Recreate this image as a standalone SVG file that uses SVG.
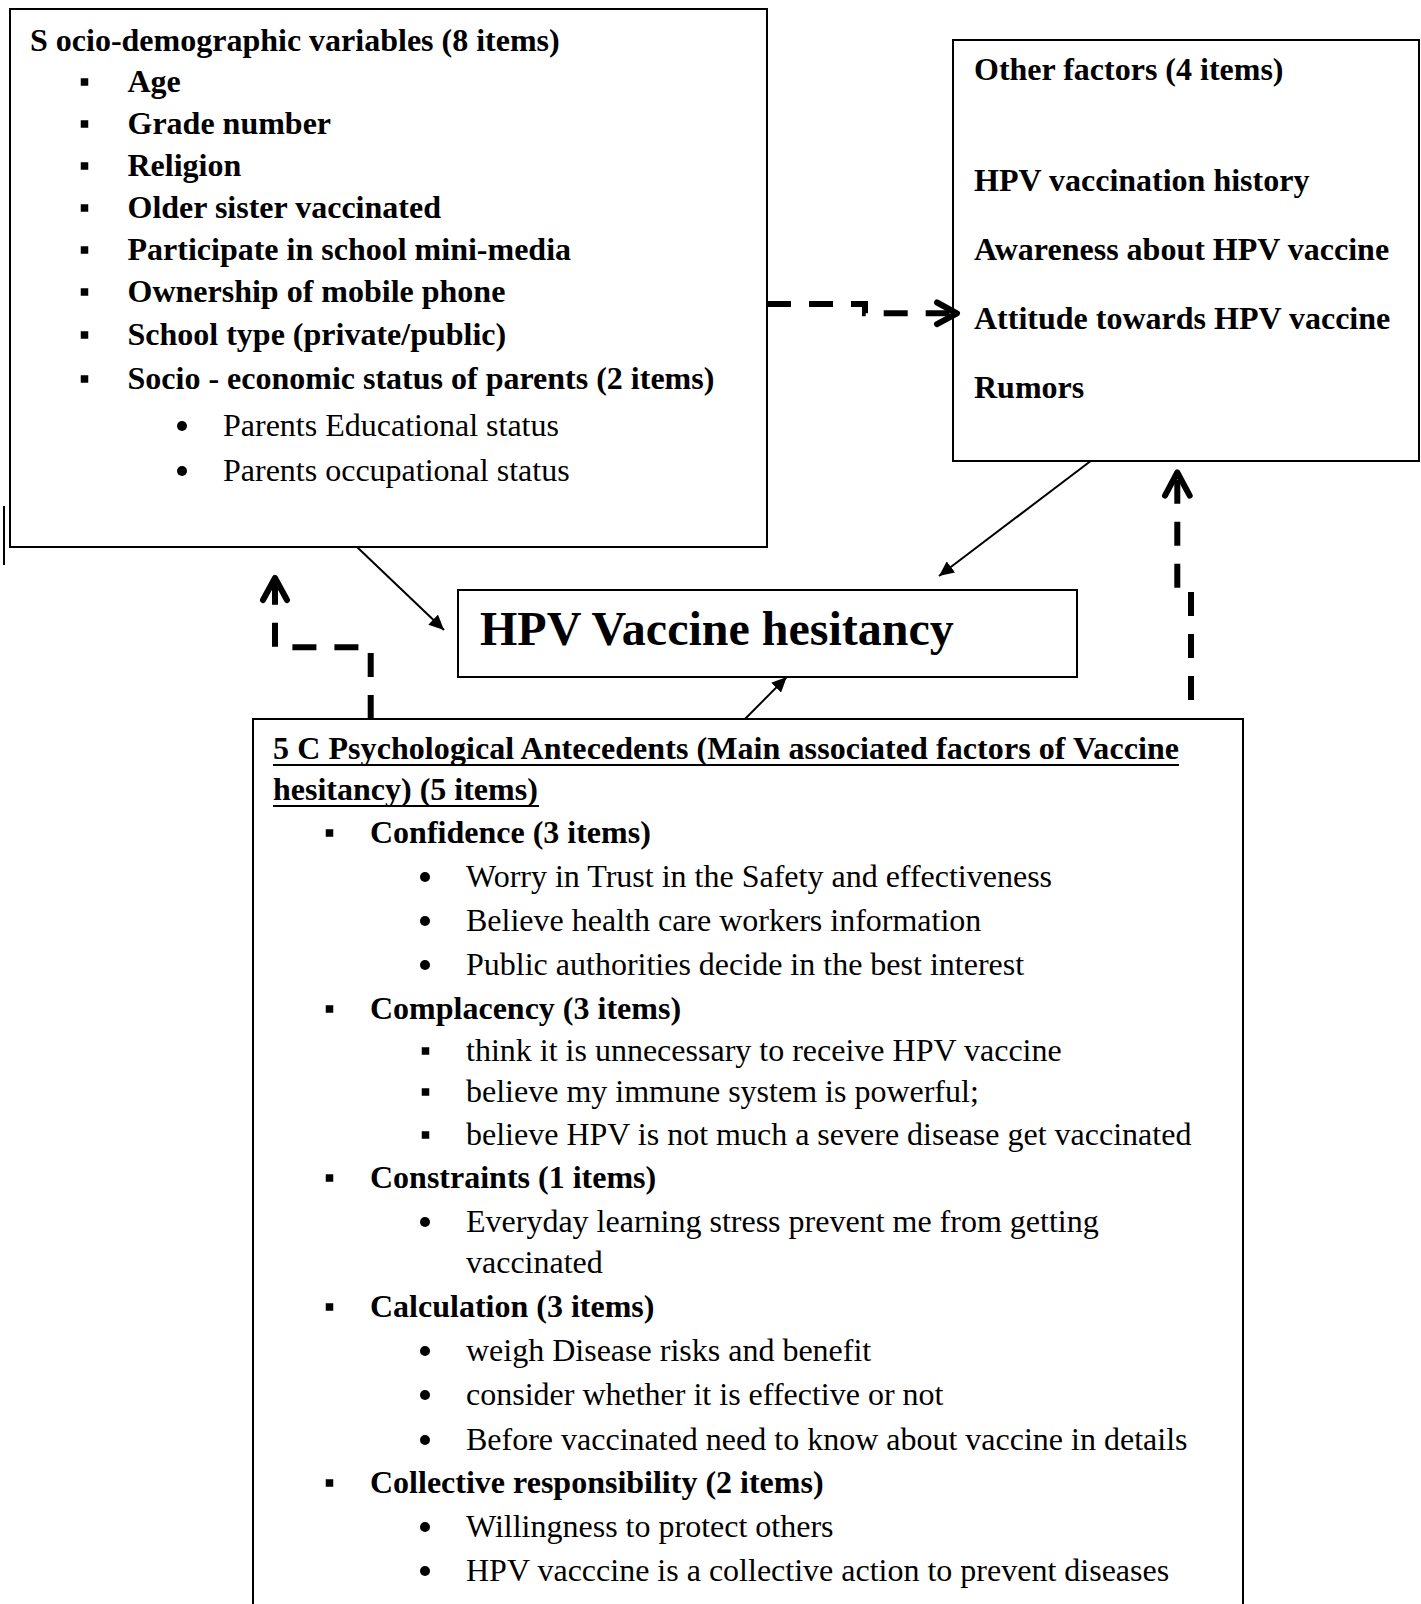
<svg xmlns="http://www.w3.org/2000/svg" xmlns:xlink="http://www.w3.org/1999/xlink" width="1421" height="1604" viewBox="0 0 1421 1604">
<style>
.t { font-family: "Liberation Serif", "Times New Roman", serif; font-size: 32px; fill: #000; }
.b { font-weight: bold; }
.big { font-size: 48px; font-weight: bold; }
.ul { stroke: #000; stroke-width: 2.2; }
.box { fill: #fff; stroke: #000; stroke-width: 2; }
.conn { stroke: #000; stroke-width: 2; fill: none; }
.dash { stroke: #000; stroke-width: 6; stroke-dasharray: 24 18; fill: none; }
.chev { stroke: #000; stroke-width: 6; fill: none; stroke-linecap: round; stroke-linejoin: round; }
.bul { fill: #000; }
</style>
<defs>
  <rect id="sq" class="bul" x="-3.75" y="-3.75" width="7.5" height="7.5"/>
  <circle id="dot" class="bul" r="5"/>
  <marker id="ah" viewBox="0 0 15 14" refX="15" refY="7" markerWidth="15" markerHeight="14" markerUnits="userSpaceOnUse" orient="auto">
    <path d="M0,0 L15,7 L0,14 z" fill="#000"/>
  </marker>
</defs>

<rect x="0" y="0" width="1421" height="1604" fill="#fff"/>

<!-- stray thin line -->
<line x1="4" y1="506" x2="4" y2="565" stroke="#000" stroke-width="2"/>

<g id="socio">
  <rect class="box" x="10" y="9" width="757" height="538"/>
  <text class="t b" x="30" y="51">S ocio-demographic variables (8 items)</text>
  <use href="#sq" x="84.5" y="82"/><text class="t b" x="127.5" y="92">Age</text>
  <use href="#sq" x="84.5" y="124"/><text class="t b" x="127.5" y="134">Grade number</text>
  <use href="#sq" x="84.5" y="166"/><text class="t b" x="127.5" y="176">Religion</text>
  <use href="#sq" x="84.5" y="208"/><text class="t b" x="127.5" y="218">Older sister vaccinated</text>
  <use href="#sq" x="84.5" y="250"/><text class="t b" x="127.5" y="260">Participate in school mini-media</text>
  <use href="#sq" x="84.5" y="292"/><text class="t b" x="127.5" y="302">Ownership of mobile phone</text>
  <use href="#sq" x="84.5" y="335"/><text class="t b" x="127.5" y="345">School type (private/public)</text>
  <use href="#sq" x="84.5" y="379"/><text class="t b" x="127.5" y="389">Socio - economic status of parents (2 items)</text>
  <use href="#dot" x="182" y="426"/><text class="t" x="223" y="436">Parents Educational status</text>
  <use href="#dot" x="182" y="471"/><text class="t" x="223" y="481">Parents occupational status</text>
</g>

<g id="other">
  <rect class="box" x="953" y="40" width="466" height="421"/>
  <text class="t b" x="974" y="80">Other factors (4 items)</text>
  <text class="t b" x="974" y="191">HPV vaccination history</text>
  <text class="t b" x="974" y="260">Awareness about HPV vaccine</text>
  <text class="t b" x="974" y="329">Attitude towards HPV vaccine</text>
  <text class="t b" x="974" y="398">Rumors</text>
</g>

<g id="hesitancy">
  <rect class="box" x="458" y="590" width="619" height="87"/>
  <text class="t big" x="480" y="645">HPV Vaccine hesitancy</text>
</g>

<g id="fivec">
  <rect class="box" x="253" y="719" width="990" height="900"/>
  <text class="t b" x="273" y="759" textLength="906" lengthAdjust="spacing">5 C Psychological Antecedents (Main associated factors of Vaccine</text>
  <line class="ul" x1="273" y1="765" x2="1179" y2="765"/>
  <text class="t b" x="273" y="800">hesitancy) (5 items)</text>
  <line class="ul" x1="273" y1="806" x2="539" y2="806"/>

  <use href="#sq" x="329.5" y="833"/><text class="t b" x="370" y="843">Confidence (3 items)</text>
  <use href="#dot" x="425" y="877"/><text class="t" x="466" y="887">Worry in Trust in the Safety and effectiveness</text>
  <use href="#dot" x="425" y="921"/><text class="t" x="466" y="931">Believe health care workers information</text>
  <use href="#dot" x="425" y="965"/><text class="t" x="466" y="975">Public authorities decide in the best interest</text>

  <use href="#sq" x="329.5" y="1009"/><text class="t b" x="370" y="1019">Complacency (3 items)</text>
  <use href="#sq" x="425.5" y="1051"/><text class="t" x="466" y="1061">think it is unnecessary to receive HPV vaccine</text>
  <use href="#sq" x="425.5" y="1092"/><text class="t" x="466" y="1102">believe my immune system is powerful;</text>
  <use href="#sq" x="425.5" y="1135"/><text class="t" x="466" y="1145">believe HPV is not much a severe disease get vaccinated</text>

  <use href="#sq" x="329.5" y="1178"/><text class="t b" x="370" y="1188">Constraints (1 items)</text>
  <use href="#dot" x="425" y="1222"/><text class="t" x="466" y="1232">Everyday learning stress prevent me from getting</text>
  <text class="t" x="466" y="1273">vaccinated</text>

  <use href="#sq" x="329.5" y="1307"/><text class="t b" x="370" y="1317">Calculation (3 items)</text>
  <use href="#dot" x="425" y="1351"/><text class="t" x="466" y="1361">weigh Disease risks and benefit</text>
  <use href="#dot" x="425" y="1395"/><text class="t" x="466" y="1405">consider whether it is effective or not</text>
  <use href="#dot" x="425" y="1440"/><text class="t" x="466" y="1450">Before vaccinated need to know about vaccine in details</text>

  <use href="#sq" x="329.5" y="1483"/><text class="t b" x="370" y="1493">Collective responsibility (2 items)</text>
  <use href="#dot" x="425" y="1527"/><text class="t" x="466" y="1537">Willingness to protect others</text>
  <use href="#dot" x="425" y="1571"/><text class="t" x="466" y="1581">HPV vacccine is a collective action to prevent diseases</text>
</g>

<g id="connectors">
  <line class="conn" x1="357" y1="547" x2="444" y2="630" marker-end="url(#ah)"/>
  <line class="conn" x1="1090.7" y1="461" x2="939" y2="576" marker-end="url(#ah)"/>
  <line class="conn" x1="745" y1="719" x2="786.7" y2="677" marker-end="url(#ah)"/>

  <path class="dash" d="M767,304 H865 V313.3 H950"/>
  <polyline class="chev" points="937,302.5 957,313.3 937,324.1"/>

  <path class="dash" d="M370.7,719 V647.3 H275 V582"/>
  <polyline class="chev" points="263,600 275,578 287,600"/>

  <path class="dash" d="M1191,700 V590 H1177.3 V478"/>
  <polyline class="chev" points="1165,495.7 1177.3,472.5 1189.7,495.7"/>
</g>
</svg>
